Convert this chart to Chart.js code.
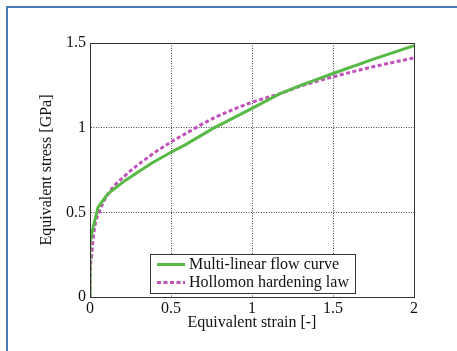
<!DOCTYPE html>
<html>
<head>
<meta charset="utf-8">
<script src="https://cdn.jsdelivr.net/npm/chart.js@4/dist/chart.umd.min.js"></script>
<style>
  body { margin: 0; background: #fff; }
  #wrap { position: relative; width: 457px; height: 351px; }
  /* blue frame around the figure */
  #frame {
    position: absolute; left: 6px; top: 6px; right: 0; bottom: 0;
    border-left: 2px solid #4c7bb4; border-top: 2px solid #4c7bb4;
    pointer-events: none;
  }
</style>
</head>
<body>
<div id="wrap">
  <canvas id="flowChart" width="457" height="351"></canvas>
  <div id="frame"></div>
</div>
<script>
/* ===============================
   DATA
================================ */
const xTickLabels = ["0", "0.5", "1", "1.5", "2"];
const yTickLabels = ["0", "0.5", "1", "1.5"];

const multiStrain = [0, 0, 0.02, 0.05, 0.11, 0.22, 0.38, 0.5, 0.59, 0.76, 1.0, 1.17, 1.3, 1.5, 1.75, 2.0];
const multiStress = [0, 0.32, 0.415, 0.53, 0.61, 0.69, 0.79, 0.855, 0.9, 0.996, 1.114, 1.2, 1.25, 1.32, 1.405, 1.484];

const hollStrain = [0, 0.002, 0.01, 0.027, 0.06, 0.12, 0.22, 0.38, 0.5, 0.59, 0.76, 1.0, 1.17, 1.3, 1.5, 1.75, 2.0];
const hollStress = [0, 0.13, 0.24, 0.40, 0.51, 0.62, 0.72, 0.84, 0.915, 0.965, 1.055, 1.15, 1.2, 1.245, 1.3, 1.36, 1.412];

const FONT = "'Liberation Serif', serif";

function toPoints(xs, ys) {
    return xs.map((x, i) => ({ x: x, y: ys[i] }));
}

/* ===============================
   PLOT BOX + LEGEND INSIDE AXES
================================ */
const boxAndLegend = {
    id: "boxAndLegend",
    afterDraw(chart) {
        const { ctx, chartArea: a } = chart;
        ctx.save();
        // full box around the axes
        ctx.strokeStyle = "#333";
        ctx.lineWidth = 1;
        ctx.setLineDash([]);
        ctx.strokeRect(a.left + 0.5, a.top + 0.5, a.right - a.left, a.bottom - a.top);

        // legend box, lower middle of the axes
        const bx = a.left + 60, bw = 205;
        const by = a.bottom - 43, bh = 39;
        ctx.fillStyle = "#fff";
        ctx.fillRect(bx, by, bw, bh);
        ctx.strokeStyle = "#333";
        ctx.strokeRect(bx + 0.5, by + 0.5, bw, bh);

        ctx.font = "16px " + FONT;
        ctx.textBaseline = "middle";
        ctx.textAlign = "left";
        chart.data.datasets.forEach((ds, i) => {
            const yy = by + 10.5 + i * 18;
            ctx.strokeStyle = ds.borderColor;
            ctx.lineWidth = ds.borderWidth;
            ctx.setLineDash(ds.borderDash || []);
            ctx.beginPath();
            ctx.moveTo(bx + 7, yy);
            ctx.lineTo(bx + 35, yy);
            ctx.stroke();
            ctx.fillStyle = "#111";
            ctx.fillText(ds.label, bx + 39, yy);
        });
        ctx.restore();
    }
};

new Chart(document.getElementById("flowChart"), {
    type: "scatter",
    data: {
        datasets: [
            {
                label: "Multi-linear flow curve",
                data: toPoints(multiStrain, multiStress),
                showLine: true,
                borderColor: "#58b947",
                borderWidth: 3,
                pointRadius: 0,
                tension: 0
            },
            {
                label: "Hollomon hardening law",
                data: toPoints(hollStrain, hollStress),
                showLine: true,
                borderColor: "#c152b9",
                borderWidth: 3,
                borderDash: [4, 2.5],
                pointRadius: 0,
                cubicInterpolationMode: "monotone"
            }
        ]
    },
    options: {
        responsive: false,
        animation: false,
        layout: { padding: { top: 43, right: 43, bottom: 0, left: 0 } },
        plugins: {
            legend: { display: false },
            tooltip: { enabled: false }
        },
        scales: {
            x: {
                type: "linear",
                min: 0, max: 2,
                afterFit: (s) => { s.height = 54; },
                ticks: {
                    stepSize: 0.5,
                    padding: 2,
                    color: "#111",
                    font: { family: FONT, size: 16 },
                    callback: (v) => xTickLabels[Math.round(v / 0.5)]
                },
                grid: { color: "#444", lineWidth: 1, drawTicks: false },
                border: { display: true, color: "#333", dash: [1, 1.5] },
                title: {
                    display: true,
                    text: "Equivalent strain [-]",
                    color: "#111",
                    font: { family: FONT, size: 16 },
                    padding: { top: 0, bottom: 19 }
                }
            },
            y: {
                type: "linear",
                min: 0, max: 1.5,
                afterFit: (s) => { s.width = 90; },
                ticks: {
                    stepSize: 0.5,
                    padding: 4,
                    color: "#111",
                    font: { family: FONT, size: 16 },
                    callback: (v) => yTickLabels[Math.round(v / 0.5)]
                },
                grid: { color: "#444", lineWidth: 1, drawTicks: false },
                border: { display: true, color: "#333", dash: [1, 1.5] },
                title: {
                    display: true,
                    text: "Equivalent stress [GPa]",
                    color: "#111",
                    font: { family: FONT, size: 16 },
                    padding: { top: 37, bottom: 0 }
                }
            }
        }
    },
    plugins: [boxAndLegend]
});
</script>
</body>
</html>
